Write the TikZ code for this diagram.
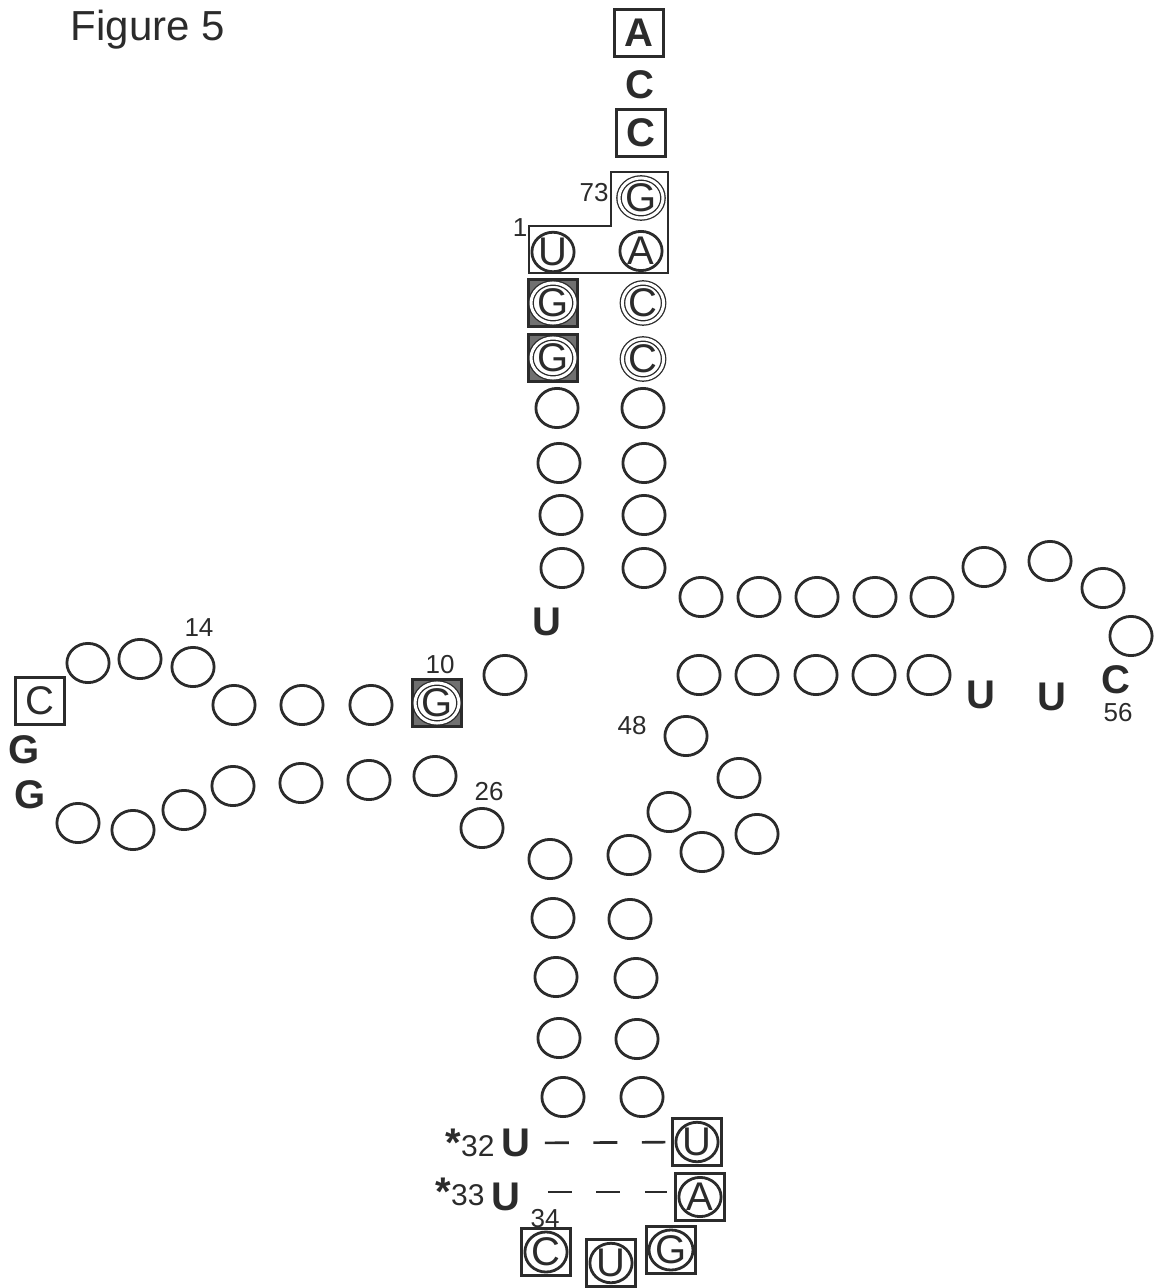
\documentclass[tikz,border=0pt]{standalone}
\usepackage{fontspec}
\setmainfont{Liberation Sans}
\usetikzlibrary{shapes.geometric}
\definecolor{figink}{HTML}{2B2B2B}
\definecolor{figshade}{HTML}{707070}
\newcommand\ntfont{\fontsize{20}{24}\selectfont}
\newcommand\ltrfont{\fontsize{20}{24}\selectfont\bfseries}
\newcommand\numfont{\fontsize{13}{15}\selectfont}
\newcommand\codfont{\fontsize{15}{18}\selectfont}

\begin{document}
\begin{tikzpicture}[x=0.5pt, y=-0.5pt,
                    every node/.style={figink, inner sep=0pt},
                    nt/.style={ellipse, draw=figink, line width=1.4pt, minimum width=21.1pt, minimum height=19.6pt, font=\ntfont},
                    ntdbl/.style={nt, line width=0.65pt, double=white, double distance=1.5pt, minimum width=20.6pt, minimum height=19.8pt},
                    ntbox/.style={rectangle, draw=figink, line width=1.2pt, minimum width=24.5pt, minimum height=23.5pt},
                    ntboxdark/.style={ntbox, fill=figshade},
                    ntletter/.style={font=\ltrfont},
                    numlbl/.style={font=\numfont},
                    pairdash/.style={draw=figink, line width=1.3pt, dash pattern=on 12pt off 12.25pt}]

  \useasboundingbox (0,0) rectangle (1159,1288);

  %% titel
  \node[font=\fontsize{21}{25}\selectfont] (title) at (148,30) {Figure 5};

  %% 3'-Ende und Akzeptorstamm
  \node[ntbox, font=\ltrfont] (n76) at (639,33) {A};
  \node[ntletter] (n75) at (640,85) {C};
  \node[ntbox, font=\ltrfont] (n74) at (641,133) {C};
  \node[ntdbl] (n73) at (641,198) {G};
  \node[nt] (n72) at (641,251) {A};
  \node[nt] (n1) at (553,252) {U};
  \draw[figink, line width=1.1pt] (611,172) -- (668,172) -- (668,273) -- (529,273) -- (529,226) -- (611,226) -- cycle;
  \node[numlbl] (l73) at (594,193) {73};
  \node[numlbl] (l1) at (520,228) {1};

  \node[ntboxdark] (b2) at (553,303) {};
  \node[ntdbl, fill=white] (n2) at (b2) {G};
  \node[ntboxdark] (b3) at (553,358) {};
  \node[ntdbl, fill=white] (n3) at (b3) {G};
  \node[ntdbl] (n71) at (643,303) {C};
  \node[ntdbl] (n70) at (643,359) {C};
  \node[nt] (n4) at (557,408) {};
  \node[nt] (n5) at (559,463) {};
  \node[nt] (n6) at (561,515) {};
  \node[nt] (n7) at (562,568) {};
  \node[nt] (n69) at (643,408) {};
  \node[nt] (n68) at (644,463) {};
  \node[nt] (n67) at (644,515) {};
  \node[nt] (n66) at (644,568) {};
  \node[ntletter] (n8) at (547,622) {U};
  \node[nt] (n9) at (505,675) {};

  %% D-Arm
  \node[ntboxdark] (b10) at (437,703) {};
  \node[ntdbl, fill=white] (n10) at (b10) {G};
  \node[numlbl] (l10) at (440,665) {10};
  \node[nt] (n11) at (371,705) {};
  \node[nt] (n12) at (302,705) {};
  \node[nt] (n13) at (234,705) {};
  \node[nt] (n14) at (193,667) {};
  \node[numlbl] (l14) at (199,628) {14};
  \node[nt] (n15) at (140,659) {};
  \node[nt] (n16) at (88,663) {};
  \node[ntbox, font=\ntfont] (n17) at (40,701) {C};
  \node[ntletter] (n18) at (24,750) {G};
  \node[ntletter] (n19) at (30,795) {G};
  \node[nt] (n20) at (78,823) {};
  \node[nt] (n20a) at (133,830) {};
  \node[nt] (n21) at (184,810) {};
  \node[nt] (n22) at (233,786) {};
  \node[nt] (n23) at (301,783) {};
  \node[nt] (n24) at (369,780) {};
  \node[nt] (n25) at (435,776) {};
  \node[nt] (n26) at (482,828) {};
  \node[numlbl] (l26) at (489,792) {26};

  %% Anticodonarm
  \node[nt] (n27) at (550,859) {};
  \node[nt] (n28) at (553,918) {};
  \node[nt] (n29) at (556,977) {};
  \node[nt] (n30) at (559,1038) {};
  \node[nt] (n31) at (563,1097) {};
  \node[nt] (n43) at (629,855) {};
  \node[nt] (n42) at (630,919) {};
  \node[nt] (n41) at (636,978) {};
  \node[nt] (n40) at (637,1039) {};
  \node[nt] (n39) at (642,1097) {};

  \node[font=\codfont, anchor=base east] (l32) at (495,1156) {{\ltrfont *}32};
  \node[ntletter] (n32) at (516,1143) {U};
  \node[font=\codfont, anchor=base east] (l33) at (485,1205) {{\ltrfont *}33};
  \node[ntletter] (n33) at (506,1197) {U};
  \node[numlbl] (l34) at (545,1219) {34};

  \node[ntbox] (b38) at (697,1142) {};
  \node[nt] (n38) at (b38) {U};
  \node[ntbox] (b37) at (700,1197) {};
  \node[nt] (n37) at (b37) {A};
  \node[ntbox] (b34) at (546,1252) {};
  \node[nt] (n34) at (b34) {C};
  \node[ntbox] (b35) at (611,1263) {};
  \node[nt] (n35) at (b35) {U};
  \node[ntbox] (b36) at (671,1250) {};
  \node[nt] (n36) at (b36) {G};

  \draw[pairdash, shorten <=7pt, shorten >=3pt] (n32) -- (b38);
  \draw[pairdash, shorten <=13.5pt, shorten >=3.5pt] ([yshift=2.5pt]n33.east) -- ([yshift=2.5pt]b37.west);

  %% Variable Schleife
  \node[nt] (n44) at (669,812) {};
  \node[nt] (n45) at (702,852) {};
  \node[nt] (n46) at (757,834) {};
  \node[nt] (n47) at (739,778) {};
  \node[nt] (n48) at (686,736) {};
  \node[numlbl] (l48) at (632,726) {48};

  %% T-Arm
  \node[nt] (n49) at (699,675) {};
  \node[nt] (n50) at (757,675) {};
  \node[nt] (n51) at (816,675) {};
  \node[nt] (n52) at (874,675) {};
  \node[nt] (n53) at (929,675) {};
  \node[ntletter] (n54) at (981,695) {U};
  \node[ntletter] (n55) at (1052,697) {U};
  \node[ntletter] (n56) at (1116,680) {C};
  \node[numlbl] (l56) at (1118,713) {56};
  \node[nt] (n57) at (1131,636) {};
  \node[nt] (n58) at (1103,588) {};
  \node[nt] (n59) at (1050,561) {};
  \node[nt] (n60) at (984,567) {};
  \node[nt] (n61) at (932,597) {};
  \node[nt] (n62) at (875,597) {};
  \node[nt] (n63) at (817,597) {};
  \node[nt] (n64) at (759,597) {};
  \node[nt] (n65) at (701,597) {};

\end{tikzpicture}
\end{document}
